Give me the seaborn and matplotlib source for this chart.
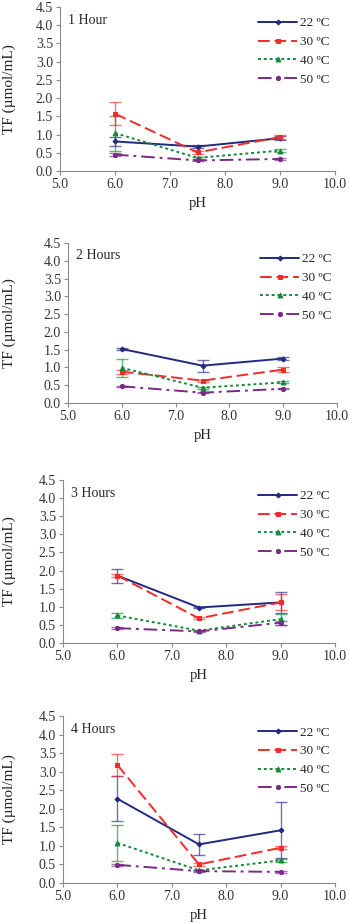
import matplotlib
matplotlib.use("Agg")
import matplotlib.pyplot as plt
import pandas as pd
import seaborn as sns

# pH values on the x axis
ph = [6.0, 7.5, 9.0]
temps = ["22 ºC", "30 ºC", "40 ºC", "50 ºC"]
panels = ["1 Hour", "2 Hours", "3 Hours", "4 Hours"]

# TF means (umol/mL) per panel, per temperature, at pH 6.0 / 7.5 / 9.0
tf_1h = [[0.81, 0.67, 0.90], [1.57, 0.51, 0.93], [1.04, 0.36, 0.56], [0.45, 0.29, 0.33]]
tf_2h = [[1.52, 1.05, 1.25], [0.88, 0.63, 0.94], [0.99, 0.43, 0.58], [0.47, 0.29, 0.40]]
tf_3h = [[1.86, 0.98, 1.12], [1.86, 0.68, 1.12], [0.76, 0.34, 0.66], [0.41, 0.32, 0.56]]
tf_4h = [[2.27, 1.04, 1.42], [3.18, 0.50, 0.95], [1.08, 0.34, 0.61], [0.49, 0.32, 0.30]]

# error bars (+/-)
err_1h = [[0.12, 0.03, 0.05], [0.31, 0.05, 0.06], [0.48, 0.03, 0.03], [0.05, 0.02, 0.02]]
err_2h = [[0.02, 0.17, 0.04], [0.06, 0.03, 0.07], [0.25, 0.03, 0.03], [0.02, 0.02, 0.02]]
err_3h = [[0.19, 0.02, 0.30], [0.05, 0.03, 0.22], [0.08, 0.02, 0.15], [0.02, 0.02, 0.05]]
err_4h = [[0.60, 0.28, 0.75], [0.29, 0.03, 0.04], [0.48, 0.02, 0.04], [0.02, 0.02, 0.02]]

means = [tf_1h, tf_2h, tf_3h, tf_4h]
errs = [err_1h, err_2h, err_3h, err_4h]

colors = {"22 ºC": "#202a80", "30 ºC": "#f22a2a", "40 ºC": "#138a3a", "50 ºC": "#7a2a86"}
markers = {"22 ºC": "D", "30 ºC": "s", "40 ºC": "^", "50 ºC": "o"}
dashes = {"22 ºC": "", "30 ºC": (6, 2.5), "40 ºC": (1.5, 1.5), "50 ºC": (7, 2.5, 1.5, 2.5)}
msizes = {"22 ºC": 2.5, "30 ºC": 3, "40 ºC": 3.5, "50 ºC": 3}

sns.set_style("white")
plt.rcParams["font.family"] = ["Liberation Serif", "DejaVu Serif"]
plt.rcParams["font.size"] = 9.5

fig = plt.figure(figsize=(3.5, 9.24), dpi=100)

# axes boxes in pixels: left, right, top, bottom
boxes = [(60, 335, 7, 171), (68, 337, 243, 403), (63, 335, 480, 643), (63, 335, 716, 883)]

for i, (name, m, e) in enumerate(zip(panels, means, errs)):
    l, r, t, b = boxes[i]
    ax = fig.add_axes([l / 350, 1 - b / 924, (r - l) / 350, (b - t) / 924])
    rows = []
    for j, tc in enumerate(temps):
        for k, p in enumerate(ph):
            rows.append({"pH": p, "TF": m[j][k], "err": e[j][k], "temp": tc})
    df = pd.DataFrame(rows)

    for tc in temps:
        d = df[df["temp"] == tc]
        ax.errorbar(d["pH"], d["TF"], yerr=d["err"], fmt="none", ecolor=colors[tc],
                    alpha=0.65, elinewidth=1, capsize=4, capthick=1, zorder=1)

    for tc in temps:
        d = df[df["temp"] == tc]
        ls = "-" if dashes[tc] == "" else (0, dashes[tc])
        sns.lineplot(data=d, x="pH", y="TF", ax=ax, color=colors[tc], marker=markers[tc],
                     markersize=msizes[tc], markeredgecolor=colors[tc], linestyle=ls,
                     linewidth=1.4, label=tc, zorder=3)

    ax.set_xlim(5.0, 10.0)
    ax.set_ylim(0.0, 4.5)
    ax.set_xticks([5, 6, 7, 8, 9, 10])
    ax.set_xticklabels([f"{v:.1f}" for v in [5, 6, 7, 8, 9, 10]])
    ax.set_yticks([0.5 * v for v in range(10)])
    ax.set_yticklabels([f"{0.5 * v:.1f}" for v in range(10)])
    for s in ["top", "right"]:
        ax.spines[s].set_visible(False)
    for s in ["left", "bottom"]:
        ax.spines[s].set_color("#8a8a8a")
        ax.spines[s].set_linewidth(0.8)
    ax.tick_params(axis="both", direction="out", length=3, width=0.8, color="#8a8a8a",
                   labelsize=10, pad=2, left=True, bottom=True, labelcolor="#333333")
    ax.set_xlabel("pH", fontsize=10.5)
    ax.set_ylabel("TF (µmol/mL)", fontsize=11)
    w, h = r - l, b - t
    ax.yaxis.set_label_coords((9 - l) / w, 0.5)
    ax.xaxis.set_label_coords(0.5, -26 / h)
    ax.yaxis.label.set_va("center")
    ax.text(0.03, 0.92, name, transform=ax.transAxes, fontsize=10, va="center", ha="left")
    ax.legend(loc="upper right", bbox_to_anchor=(1.0, 0.97), frameon=False, fontsize=9.5,
              handlelength=3.0, handletextpad=0.2, labelspacing=0.5, borderaxespad=0)

fig.savefig("out.png", dpi=100)
